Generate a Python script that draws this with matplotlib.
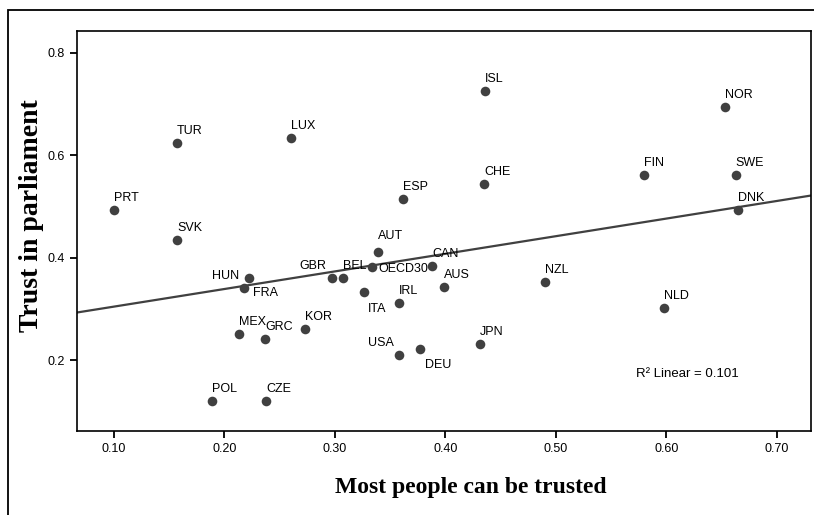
import numpy as np
import matplotlib
matplotlib.use("Agg")
import matplotlib.pyplot as plt
from matplotlib.patches import Rectangle

# country codes and values
countries = ["PRT", "TUR", "LUX", "SVK", "ISL", "NOR", "FIN", "SWE", "DNK", "NLD",
             "CHE", "ESP", "HUN", "FRA", "GBR", "BEL", "AUT", "OECD30", "CAN", "AUS",
             "ITA", "IRL", "NZL", "MEX", "GRC", "KOR", "USA", "DEU", "JPN", "POL", "CZE"]
trust_people = [0.100, 0.157, 0.260, 0.157, 0.436, 0.653, 0.580, 0.663, 0.665, 0.598,
                0.435, 0.362, 0.222, 0.218, 0.297, 0.307, 0.339, 0.334, 0.388, 0.399,
                0.326, 0.358, 0.490, 0.213, 0.237, 0.273, 0.358, 0.377, 0.431, 0.189, 0.238]
trust_parliament = [0.493, 0.623, 0.633, 0.434, 0.725, 0.693, 0.562, 0.562, 0.492, 0.301,
                    0.543, 0.514, 0.361, 0.341, 0.361, 0.361, 0.412, 0.382, 0.383, 0.342,
                    0.333, 0.312, 0.352, 0.251, 0.242, 0.261, 0.210, 0.221, 0.231, 0.120, 0.120]
r2_text = "R\u00b2 Linear = 0.101"

x_ticks = [0.10, 0.20, 0.30, 0.40, 0.50, 0.60, 0.70]
y_ticks = [0.2, 0.4, 0.6, 0.8]

# label placement (pixels from the dot, horizontal alignment); default is above-right
default_pos = ((0, 9), "left")
label_pos = {
    "HUN": ((-10, -1), "right"),
    "FRA": ((9, -8), "left"),
    "GBR": ((-5, 9), "right"),
    "OECD30": ((6, -5), "left"),
    "ITA": ((4, -20), "left"),
    "USA": ((-5, 9), "right"),
    "DEU": ((5, -19), "left"),
    "AUT": ((0, 13), "left"),
}

dot_color = "#404040"

fig = plt.figure(figsize=(8.14, 5.15), dpi=100)
ax = fig.add_axes([77 / 814, 1 - 431 / 515, (811 - 77) / 814, (431 - 31) / 515])

# outer frame of the chart window
fig.patches.append(Rectangle((8 / 814, -0.1), 1.0, 1 - 10 / 515 + 0.1, transform=fig.transFigure,
                             fill=False, edgecolor="black", linewidth=1.3))

x = np.array(trust_people)
y = np.array(trust_parliament)
ax.scatter(x, y, s=48, color=dot_color, zorder=3, linewidths=0)

for name, xv, yv in zip(countries, x, y):
    (dx, dy), ha = label_pos.get(name, default_pos)
    ax.annotate(name, (xv, yv), xytext=(dx, dy), textcoords="offset pixels",
                ha=ha, va="baseline", fontsize=9, family="Liberation Sans")

# linear fit over the countries (OECD average left out)
mask = np.array([c != "OECD30" for c in countries])
slope, intercept = np.polyfit(x[mask], y[mask], 1)
xlim = (0.0665, 0.731)
xs = np.array(xlim)
ax.plot(xs, intercept + slope * xs, color=dot_color, linewidth=1.6, zorder=2)

ax.set_xlim(*xlim)
ax.set_ylim(0.062, 0.842)
ax.set_xticks(x_ticks)
ax.set_xticklabels([f"{t:.2f}" for t in x_ticks])
ax.set_yticks(y_ticks)
ax.set_yticklabels([f"{t:.1f}" for t in y_ticks])
ax.tick_params(direction="out", length=5, width=1.3, labelsize=9, pad=4)
for lab in ax.get_xticklabels() + ax.get_yticklabels():
    lab.set_family("Liberation Sans")
for sp in ax.spines.values():
    sp.set_linewidth(1.2)

fig.text(636 / 814, 1 - 374 / 515, r2_text, fontsize=9.5, family="Liberation Sans", va="center")

fig.text(471 / 814, 1 - 488 / 515, "Most people can be trusted", ha="center", va="center",
         family="Liberation Serif", fontweight="bold", fontsize=17)
fig.text(32 / 814, 1 - 216 / 515, "Trust in parliament", ha="center", va="center", rotation=90,
         family="Liberation Serif", fontweight="bold", fontsize=20)

fig.savefig("out.png", dpi=100)
